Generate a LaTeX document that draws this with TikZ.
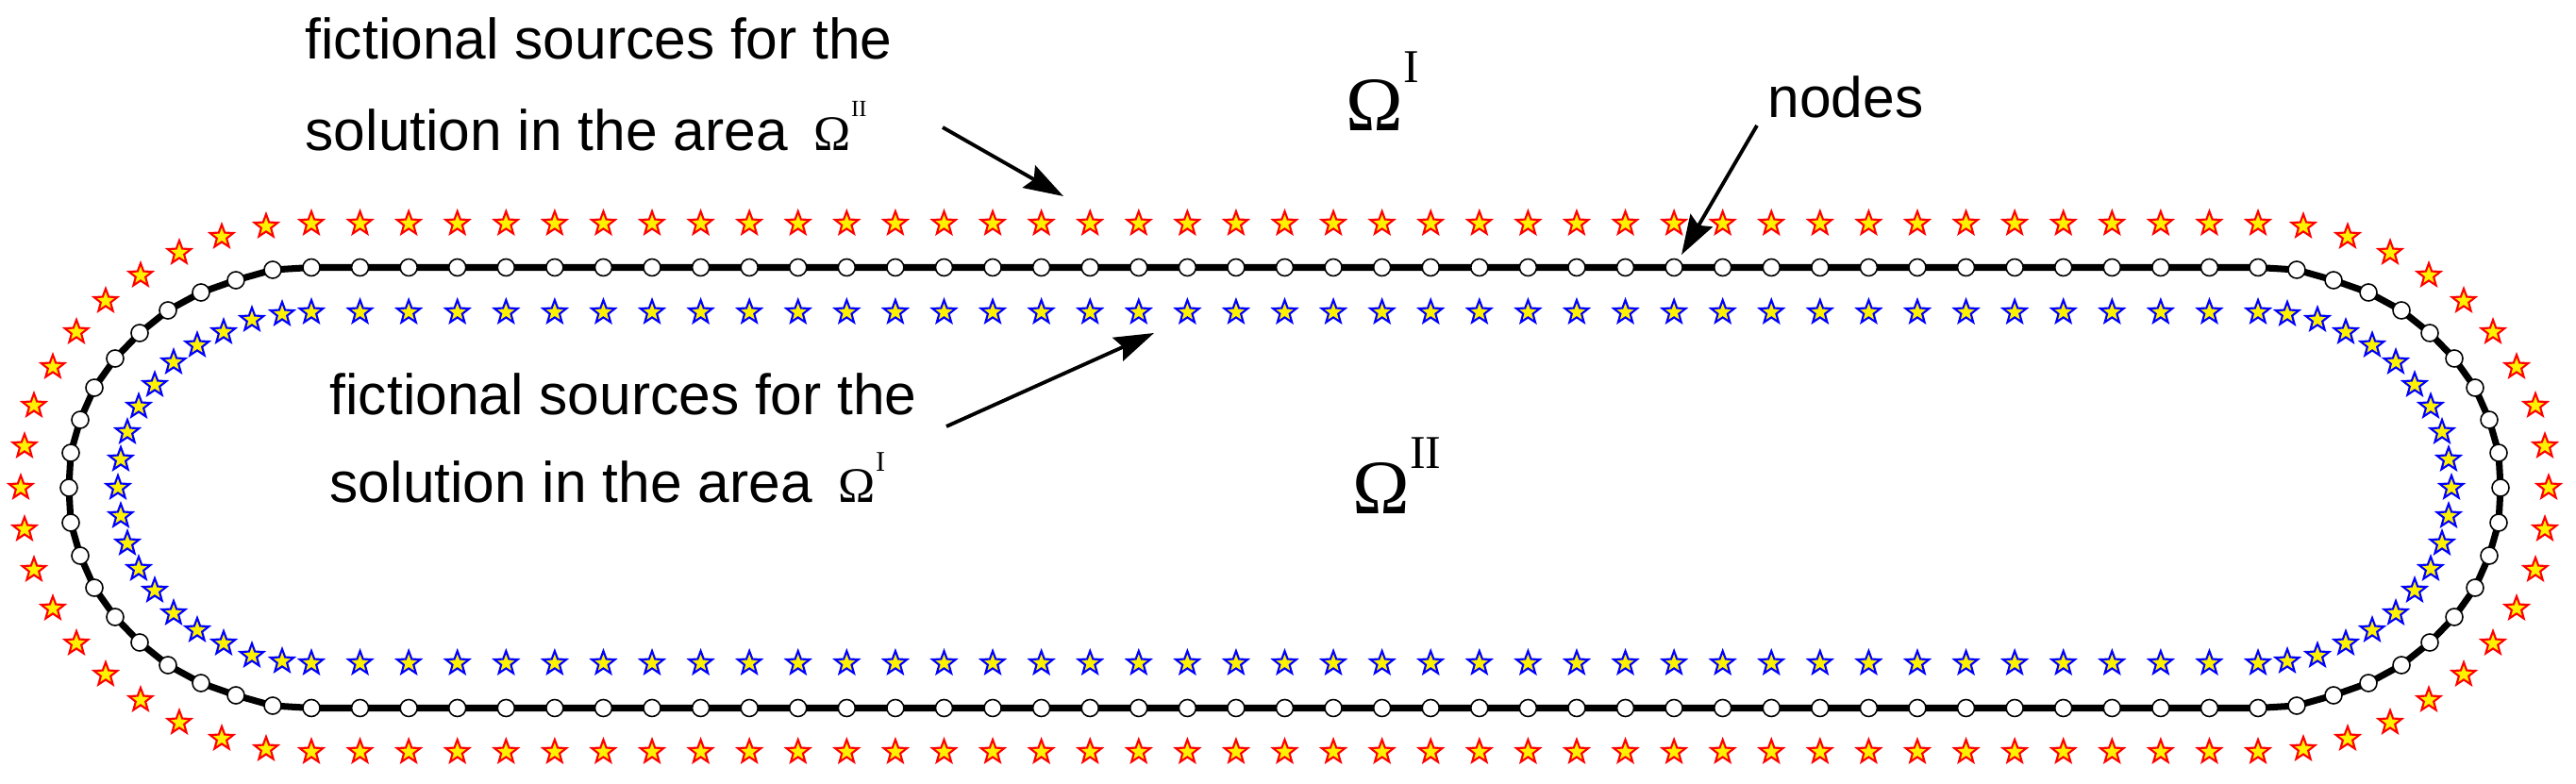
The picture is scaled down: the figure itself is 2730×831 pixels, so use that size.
\documentclass[tikz,border=0pt]{standalone}
\usepackage{fontspec}
\setmainfont{Liberation Sans}
\newfontfamily\seriff{Liberation Serif}
\usetikzlibrary{shapes.geometric,arrows.meta}
\def\NQ{17.5/231, 56.5/220, 93.5/207, 128.5/188, 158.5/164, 184.5/137, 206.5/106, 221.5/72, 231.5/37}
\def\RQ{24.5/277, 71.5/266, 116.5/249, 157.5/225, 194.5/198, 225.5/165, 250.5/128, 270.5/87, 280.5/44}
\def\BQ{7.5/184, 39.5/178, 69.5/165, 97.5/151, 122.5/133, 142.5/109, 159.5/86, 171.5/59, 178.5/30}
\newcommand\mkring[4]{%
  \foreach \k in {0,...,40} {
    \coordinate (#1t\k) at ({330+51.575*\k}, {517-#2});
    \coordinate (#1b\k) at ({330+51.575*\k}, {517+#2});
  }
  \foreach \dx/\dy [count=\i] in #3 {
    \coordinate (#1ru\i) at ({2416.5+\dx}, {517-\dy});
    \coordinate (#1rd\i) at ({2416.5+\dx}, {517+\dy});
    \coordinate (#1lu\i) at ({306.5-\dx}, {517-\dy});
    \coordinate (#1ld\i) at ({306.5-\dx}, {517+\dy});
  }
  \coordinate (#1rm) at ({2416.5+#4}, 517);
  \coordinate (#1lm) at ({306.5-#4}, 517);
}
\newcommand\putmarks[2]{% #1 prefix, #2 style
  \foreach \k in {0,...,40} {
    \node[#2] (M#1t\k) at (#1t\k) {};
    \node[#2] (M#1b\k) at (#1b\k) {};
  }
  \foreach \i in {1,...,9} {
    \node[#2] (M#1ru\i) at (#1ru\i) {};
    \node[#2] (M#1rd\i) at (#1rd\i) {};
    \node[#2] (M#1lu\i) at (#1lu\i) {};
    \node[#2] (M#1ld\i) at (#1ld\i) {};
  }
  \node[#2] (M#1rm) at (#1rm) {};
  \node[#2] (M#1lm) at (#1lm) {};
}
\tikzset{
  ncirc/.style={circle, draw=black, fill=white, line width=0.45pt, minimum size=0.18cm, inner sep=0pt},
  redstar/.style={star, star points=5, star point ratio=2.4, draw=red, fill=yellow, line width=0.6pt, minimum size=0.26cm, inner sep=0pt},
  bluestar/.style={star, star points=5, star point ratio=2.4, draw=blue, fill=yellow, line width=0.6pt, minimum size=0.26cm, inner sep=0pt},
  boundary/.style={line width=2pt, draw=black, line join=round},
  arr/.style={line width=1.1pt, -{Stealth[length=0.42cm, width=0.27cm, inset=0.06cm]}},
  lbl/.style={anchor=base west, inner sep=0pt, font=\fontsize{17.2pt}{20pt}\selectfont},
  omega/.style={anchor=base west, inner sep=0pt}
}
\begin{document}
\begin{tikzpicture}[x=0.01cm, y=-0.01cm]
\useasboundingbox (0,0) rectangle (2730,831);
\fill[white] (0,0) rectangle (2730,831);
\mkring{n}{233.5}{\NQ}{233.5}
\mkring{r}{280}{\RQ}{284.5}
\mkring{b}{186}{\BQ}{181.5}
% boundary polyline
\draw[boundary] (nt0) \foreach \k in {1,...,40} { -- (nt\k) }
  \foreach \k in {1,...,9} { -- (nru\k) } -- (nrm)
  \foreach \k in {9,8,...,1} { -- (nrd\k) }
  \foreach \k in {40,39,...,0} { -- (nb\k) }
  \foreach \k in {1,...,9} { -- (nld\k) } -- (nlm)
  \foreach \k in {9,8,...,1} { -- (nlu\k) } -- cycle;
\putmarks{n}{ncirc}
\putmarks{r}{redstar}
\putmarks{b}{bluestar}
% labels
\node[lbl] (t1a) at (323,63) {fictional sources for the};
\node[lbl] (t1b) at (323,160) {solution in the area\hspace{8pt}{\seriff\fontsize{15pt}{17pt}\selectfont Ω}\raisebox{10.5pt}{\seriff\fontsize{7pt}{8pt}\selectfont II}};
\node[lbl] (t2a) at (349,440) {fictional sources for the};
\node[lbl] (t2b) at (349,533) {solution in the area\hspace{8pt}{\seriff\fontsize{15pt}{17pt}\selectfont Ω}\raisebox{9.6pt}{\seriff\fontsize{8.6pt}{10pt}\selectfont I}};
\node[lbl] (t3) at (1873,125) {nodes};
\node[omega] (om1) at (1426,139) {{\seriff\fontsize{23.2pt}{28pt}\selectfont Ω}\raisebox{14.5pt}{\seriff\fontsize{14.2pt}{17pt}\selectfont I}};
\node[omega] (om2) at (1433,545) {{\seriff\fontsize{23.2pt}{28pt}\selectfont Ω}\raisebox{13.7pt}{\seriff\fontsize{14.2pt}{17pt}\selectfont II}};
% arrows
\coordinate (a1s) at (999,135);
\coordinate (a1e) at (1127,208);
\coordinate (a2s) at (1003,452);
\coordinate (a2e) at (1223,353);
\coordinate (a3s) at (1862,133);
\coordinate (a3e) at (1782,270);
\draw[arr] (a1s) -- (a1e);
\draw[arr] (a2s) -- (a2e);
\draw[arr] (a3s) -- (a3e);
\end{tikzpicture}
\end{document}
